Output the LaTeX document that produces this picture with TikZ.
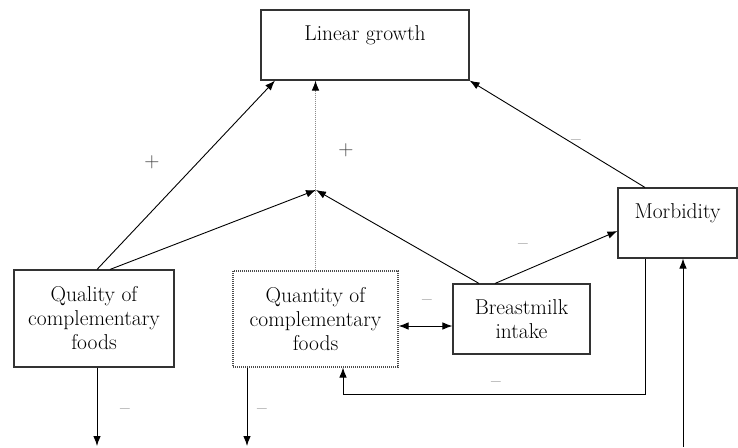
\documentclass[tikz,border=0pt]{standalone}
\usetikzlibrary{arrows.meta, positioning}

\begin{document}
\begin{tikzpicture}[x=1pt,y=-1pt,->,>={Latex[length=10pt,width=7.5pt]},line width=0.9pt,
        font=\rmfamily\fontsize{21.5}{24}\selectfont]
        \tikzstyle{box}=[draw=black!80,line width=1.1pt,rectangle,inner sep=0pt,align=center]
        \tikzstyle{sign}=[text=black!75,font=\rmfamily\fontsize{21}{22}\selectfont]
        \tikzstyle{faint}=[draw=black!45,dash pattern=on 1pt off 1pt,-{Latex[length=10pt,width=7.5pt,black]}]

        \useasboundingbox (0,0) rectangle (738,447);

        \node[box,minimum width=208pt,minimum height=70pt]  (growth)   at (365,45)    {Linear growth\\ \mbox{}};
        \node[box,minimum width=160pt,minimum height=97pt]  (quality)  at (94,318.5)  {Quality of\\complementary\\foods};
        \node[box,minimum width=165pt,minimum height=96pt,draw=black!70,dash pattern=on 1pt off 1pt]
                                                            (quantity) at (315.5,319) {Quantity of\\complementary\\foods};
        \node[box,minimum width=137pt,minimum height=70pt]  (breast)   at (521.5,319) {Breastmilk\\intake};
        \node[box,minimum width=119pt,minimum height=70pt]  (morbid)   at (677.5,223) {Morbidity\\ \mbox{}};

        \coordinate (join)     at (316,190);
        \coordinate (qualout)  at (97,446);
        \coordinate (quantout) at (247,446);
        \coordinate (morbin)   at (683,447);

        \path[draw] ([xshift=3pt]quality.north)     -- ([xshift=-90pt]growth.south);
        \path[draw] ([xshift=16pt]quality.north)    -- (join);
        \path[draw,faint] (quantity.north)          -- (quantity.north |- growth.south);
        \path[draw] ([xshift=-42.5pt]breast.north)  -- (join);
        \path[draw] ([xshift=-26.5pt]breast.north)  -- ([yshift=-8pt]morbid.west);
        \path[draw] ([xshift=-32.5pt]morbid.north)  -- (growth.south east);
        \path[draw,<->] ([yshift=-7pt]quantity.east) -- ([yshift=-7pt]breast.west);
        \path[draw] ([xshift=-32.5pt]morbid.south)  -- ++(0,136) -| ([xshift=27.5pt]quantity.south);
        \path[draw] (morbin)                        -- ([xshift=5.5pt]morbid.south);
        \path[draw] ([xshift=3pt]quality.south)     -- (qualout);
        \path[draw] ([xshift=-68.5pt]quantity.south) -- (quantout);

        \node[sign] (plusq)   at (152,162) {+};
        \node[sign] (plusb)   at (346,150) {+};
        \node[sign] (minusm)  at (576,143) {\textendash};
        \node[sign] (minusbm) at (523,247) {\textendash};
        \node[sign] (minusqb) at (427,303) {\textendash};
        \node[sign] (minusfb) at (496,385) {\textendash};
        \node[sign] (minusql) at (125,412) {\textendash};
        \node[sign] (minusqn) at (262,412) {\textendash};
\end{tikzpicture}
\end{document}
